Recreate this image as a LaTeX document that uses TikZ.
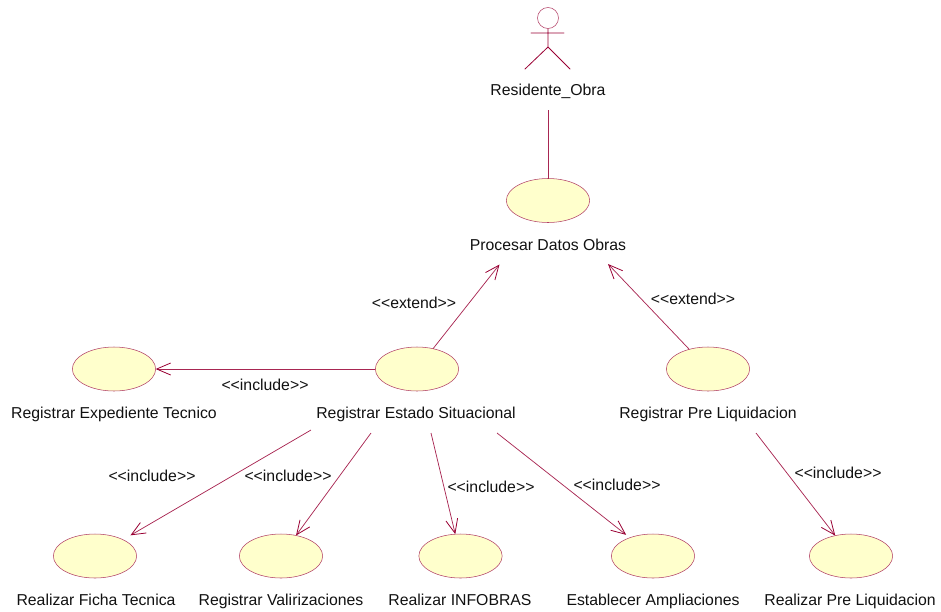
\documentclass[tikz,border=0pt]{standalone}
\usepackage{fontspec}
\setmainfont{Liberation Sans}
\usetikzlibrary{arrows.meta,shapes.geometric}
\definecolor{rose}{HTML}{990033}
\definecolor{usefill}{HTML}{FFFFCC}
\definecolor{ink}{HTML}{111111}
\tikzset{
  x=0.75pt,y=-0.75pt,
  usecase/.style={ellipse,draw=rose!75,line width=0.4pt,fill=usefill,minimum width=62.5pt,minimum height=33pt,inner sep=0pt,outer sep=0pt},
  caption/.style={text=ink,font=\fontsize{11.85pt}{14pt}\selectfont,inner sep=0pt,anchor=base},
  conn/.style={draw=rose!85,line width=0.55pt},
  dep/.style={conn,-{Straight Barb[length=10.5pt,width=9pt,line width=0.6pt,rose]}},
  stick/.style={draw=rose,line width=0.6pt,line cap=round},
}
\newcommand{\stinc}{<{}<{}include>{}>}
\newcommand{\stext}{<{}<{}extend>{}>}
\begin{document}
\begin{tikzpicture}
\useasboundingbox (0,0) rectangle (941,611);
% actor
\node[circle,draw=rose!75,line width=0.4pt,minimum size=15.75pt,inner sep=0pt,outer sep=0pt] (head) at (548,18) {};
\coordinate (neck) at (548,29);
\coordinate (hip) at (548,47);
\coordinate (armL) at (531,33);
\coordinate (armR) at (564,33);
\coordinate (legL) at (525,69);
\coordinate (legR) at (570,69);
\draw[stick] (neck) -- (hip) (armL) -- (armR) (legL) -- (hip) -- (legR);
\node[caption] (actorlabel) at (548,95) {Residente\_Obra};
\coordinate (actorend) at (548,110);
% use cases
\node[usecase] (procesar) at (548,200.5) {};
\node[usecase] (expediente) at (114,369) {};
\node[usecase] (estado) at (417,369) {};
\node[usecase] (preliq) at (708,369) {};
\node[usecase] (ficha) at (95,556) {};
\node[usecase] (valor) at (281,556) {};
\node[usecase] (infobras) at (460.5,556) {};
\node[usecase] (ampl) at (653,556) {};
\node[usecase] (realpre) at (851,556) {};
% captions
\node[caption] (lprocesar) at (548,250) {Procesar Datos Obras};
\node[caption] (lexpediente) at (114,418) {Registrar Expediente Tecnico};
\node[caption] (lestado) at (416,418) {Registrar Estado Situacional};
\node[caption] (lpreliq) at (708,418) {Registrar Pre Liquidacion};
\node[caption] (lficha) at (96,605) {Realizar Ficha Tecnica};
\node[caption] (lvalor) at (281,605) {Registrar Valirizaciones};
\node[caption] (linfobras) at (460,605) {Realizar INFOBRAS};
\node[caption] (lampl) at (653,605) {Establecer Ampliaciones};
\node[caption] (lrealpre) at (850,605) {Realizar Pre Liquidacion};
% free connector ends
\coordinate (pA) at (499.5,264.5);
\coordinate (pB) at (608,264);
\coordinate (eA) at (311,430);
\coordinate (eB) at (371,433);
\coordinate (eC) at (431,433);
\coordinate (eD) at (497,433);
\coordinate (rA) at (756,433);
% connectors
\draw[conn] (actorend) -- (procesar);
\draw[dep] (estado) -- (pA);
\draw[dep] (preliq) -- (pB);
\draw[dep] (estado) -- (expediente);
\draw[dep,shorten >=6.5pt] (eA) -- (ficha);
\draw[dep] (eB) -- (valor);
\draw[dep] (eC) -- (infobras);
\draw[dep,shorten >=3.5pt] (eD) -- (ampl);
\draw[dep] (rA) -- (realpre);
% stereotypes
\node[caption] (s1) at (414,308) {\stext};
\node[caption] (s2) at (693,304) {\stext};
\node[caption] (s3) at (265,390) {\stinc};
\node[caption] (s4) at (152,481) {\stinc};
\node[caption] (s5) at (288,481) {\stinc};
\node[caption] (s6) at (491,492) {\stinc};
\node[caption] (s7) at (617,490) {\stinc};
\node[caption] (s8) at (838,478) {\stinc};
\end{tikzpicture}
\end{document}
